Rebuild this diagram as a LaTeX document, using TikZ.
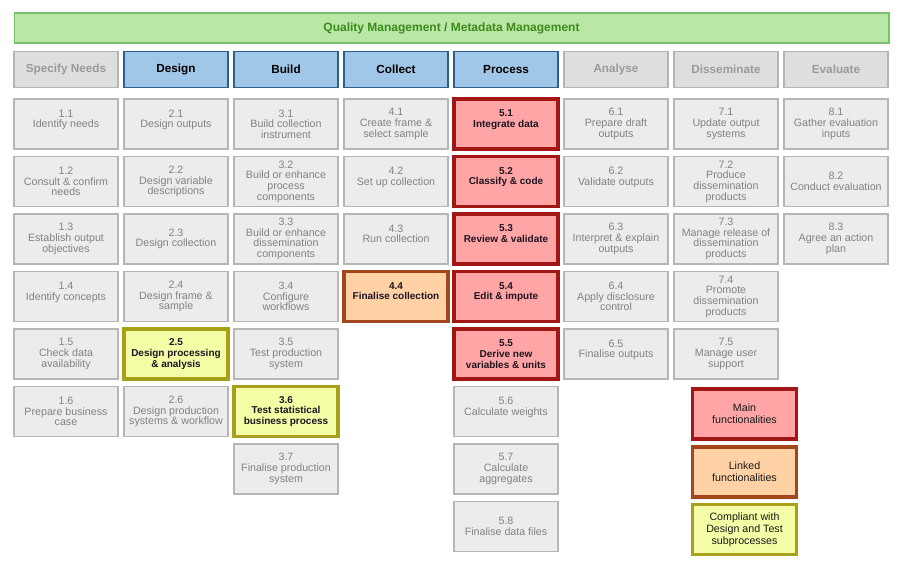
\documentclass[tikz,border=0pt]{standalone}
\usepackage{fontspec}
\setmainfont{Liberation Sans}
\definecolor{bannerfill}{HTML}{BAE6A6}
\definecolor{bannerdraw}{HTML}{78C46C}
\definecolor{bannertext}{HTML}{3C8C1C}
\definecolor{hdgfill}{HTML}{DEDEDE}
\definecolor{hdgdraw}{HTML}{B4B4B4}
\definecolor{hdgtext}{HTML}{9A9A9A}
\definecolor{cellfill}{HTML}{ECECEC}
\definecolor{celldraw}{HTML}{B6B6B6}
\definecolor{celltext}{HTML}{828282}
\definecolor{bluefill}{HTML}{A0C6E8}
\definecolor{bluedraw}{HTML}{2E5E8C}
\definecolor{redfill}{HTML}{FFA5A5}
\definecolor{reddraw}{HTML}{A31616}
\definecolor{orfill}{HTML}{FFD2A5}
\definecolor{ordraw}{HTML}{A4461C}
\definecolor{yelfill}{HTML}{F4FDA6}
\definecolor{yeldraw}{HTML}{A6A01A}
\definecolor{hitext}{HTML}{1E1420}
\tikzset{
  cellbase/.style={rectangle, align=center, inner sep=0pt, minimum width=78pt, minimum height=37.5pt, execute at begin node={\rule{0pt}{8pt}}},
  gcell/.style={cellbase, draw=celldraw, line width=1.4pt, fill=cellfill, text=celltext, font=\fontsize{8}{8}\selectfont},
  redcell/.style={cellbase, draw=reddraw, line width=2.3pt, fill=redfill, text=hitext, font=\fontsize{7.5}{8}\selectfont\bfseries},
  orcell/.style={cellbase, draw=ordraw, line width=2.3pt, fill=orfill, text=hitext, font=\fontsize{7.5}{8}\selectfont\bfseries},
  yelcell/.style={cellbase, draw=yeldraw, line width=2.3pt, fill=yelfill, text=hitext, font=\fontsize{7.5}{8}\selectfont\bfseries},
  hdgray/.style={rectangle, inner sep=0pt, minimum width=78pt, minimum height=27pt, draw=hdgdraw, line width=1.4pt, fill=hdgfill, text=hdgtext, font=\fontsize{8.8}{10}\selectfont\bfseries},
  hdblue/.style={rectangle, inner sep=0pt, minimum width=78pt, minimum height=27pt, draw=bluedraw, line width=1.2pt, fill=bluefill, text=black, font=\fontsize{8.8}{10}\selectfont\bfseries},
  legbase/.style={rectangle, align=center, inner sep=0pt, minimum width=78.5pt, minimum height=37.5pt, line width=2.3pt, text=black!90, font=\fontsize{8}{9}\selectfont},
}
\begin{document}
\begin{tikzpicture}[x=0.75pt,y=-0.75pt]
\useasboundingbox (0,0) rectangle (902,565);
% banner
\node[rectangle, draw=bannerdraw, line width=1pt, fill=bannerfill, minimum width=656pt, minimum height=22.5pt, inner sep=0pt, text=bannertext, font=\fontsize{9}{10}\selectfont\bfseries] (banner) at (451.5,28) {Quality Management / Metadata Management};
% headers
\node[hdgray] (h1) at (66,69.5) {Specify Needs};
\node[hdblue] (h2) at (176,69.5) {Design};
\node[hdblue] (h3) at (286,69.5) {Build};
\node[hdblue] (h4) at (396,69.5) {Collect};
\node[hdblue] (h5) at (506,69.5) {Process};
\node[hdgray] (h6) at (616,69.5) {Analyse};
\node[hdgray] (h7) at (726,69.5) {Disseminate};
\node[hdgray] (h8) at (836,69.5) {Evaluate};
% column 1
\node[gcell] (c11) at (66,124) {1.1\\Identify needs\\\mbox{}};
\node[gcell] (c12) at (66,181.5) {1.2\\Consult \& confirm\\needs};
\node[gcell] (c13) at (66,239) {1.3\\Establish output\\objectives};
\node[gcell] (c14) at (66,296.5) {1.4\\Identify concepts\\\mbox{}};
\node[gcell] (c15) at (66,354) {1.5\\Check data\\availability};
\node[gcell] (c16) at (66,411.5) {1.6\\Prepare business\\case};
% column 2
\node[gcell] (c21) at (176,124) {2.1\\Design outputs\\\mbox{}};
\node[gcell] (c22) at (176,181.5) {2.2\\Design variable\\descriptions};
\node[gcell] (c23) at (176,239) {2.3\\Design collection};
\node[gcell] (c24) at (176,296.5) {2.4\\Design frame \&\\sample};
\node[yelcell] (c25) at (176,354) {2.5\\Design processing\\\& analysis};
\node[gcell] (c26) at (176,411.5) {2.6\\Design production\\systems \& workflow};
% column 3
\node[gcell] (c31) at (286,124) {3.1\\Build collection\\instrument};
\node[gcell] (c32) at (286,181.5) {3.2\\Build or enhance\\process\\components};
\node[gcell] (c33) at (286,239) {3.3\\Build or enhance\\dissemination\\components};
\node[gcell] (c34) at (286,296.5) {3.4\\Configure\\workflows};
\node[gcell] (c35) at (286,354) {3.5\\Test production\\system};
\node[yelcell] (c36) at (286,411.5) {3.6\\Test statistical\\business process};
\node[gcell] (c37) at (286,469) {3.7\\Finalise production\\system};
% column 4
\node[gcell] (c41) at (396,124) {4.1\\Create frame \&\\select sample};
\node[gcell] (c42) at (396,181.5) {4.2\\Set up collection\\\mbox{}};
\node[gcell] (c43) at (396,239) {4.3\\Run collection\\\mbox{}};
\node[orcell] (c44) at (396,296.5) {4.4\\Finalise collection\\\mbox{}};
% column 5
\node[redcell] (c51) at (506,124) {5.1\\Integrate data\\\mbox{}};
\node[redcell] (c52) at (506,181.5) {5.2\\Classify \& code\\\mbox{}};
\node[redcell] (c53) at (506,239) {5.3\\Review \& validate\\\mbox{}};
\node[redcell] (c54) at (506,296.5) {5.4\\Edit \& impute\\\mbox{}};
\node[redcell] (c55) at (506,354) {5.5\\Derive new\\variables \& units};
\node[gcell] (c56) at (506,411.5) {5.6\\Calculate weights\\\mbox{}};
\node[gcell] (c57) at (506,469) {5.7\\Calculate\\aggregates};
\node[gcell] (c58) at (506,526.5) {5.8\\Finalise data files};
% column 6
\node[gcell] (c61) at (616,124) {6.1\\Prepare draft\\outputs};
\node[gcell] (c62) at (616,181.5) {6.2\\Validate outputs\\\mbox{}};
\node[gcell] (c63) at (616,239) {6.3\\Interpret \& explain\\outputs};
\node[gcell] (c64) at (616,296.5) {6.4\\Apply disclosure\\control};
\node[gcell] (c65) at (616,354) {6.5\\Finalise outputs\\\mbox{}};
% column 7
\node[gcell] (c71) at (726,124) {7.1\\Update output\\systems};
\node[gcell] (c72) at (726,181.5) {7.2\\Produce\\dissemination\\products};
\node[gcell] (c73) at (726,239) {7.3\\Manage release of\\dissemination\\products};
\node[gcell] (c74) at (726,296.5) {7.4\\Promote\\dissemination\\products};
\node[gcell] (c75) at (726,354) {7.5\\Manage user\\support};
% column 8
\node[gcell] (c81) at (836,124) {8.1\\Gather evaluation\\inputs};
\node[gcell] (c82) at (836,181.5) {8.2\\Conduct evaluation};
\node[gcell] (c83) at (836,239) {8.3\\Agree an action\\plan};
% legend
\node[legbase, draw=reddraw, fill=redfill] (lg1) at (744.5,414) {Main\\functionalities};
\node[legbase, draw=ordraw, fill=orfill] (lg2) at (744.5,472) {Linked\\functionalities};
\node[legbase, draw=yeldraw, fill=yelfill] (lg3) at (744.5,529.5) {Compliant with\\Design and Test\\subprocesses};
\end{tikzpicture}
\end{document}
